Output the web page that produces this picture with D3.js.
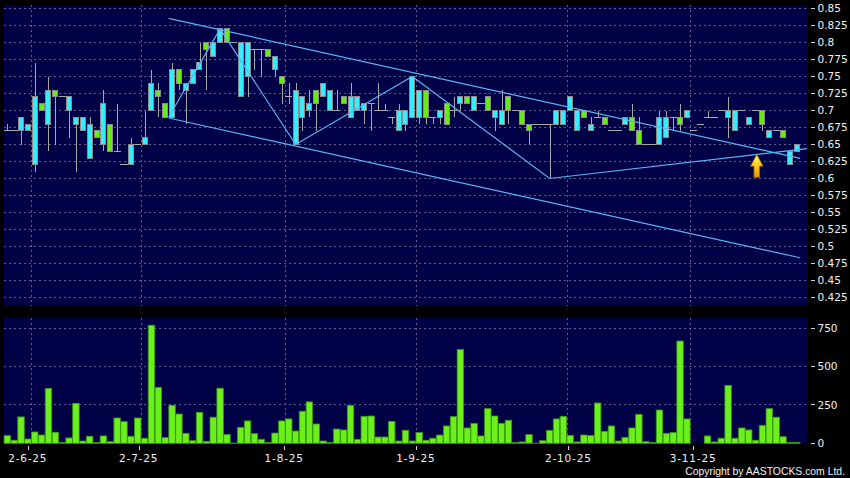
<!DOCTYPE html>
<html><head><meta charset="utf-8">
<script src="https://cdn.jsdelivr.net/npm/d3@7"></script>
<style>html,body{margin:0;padding:0;background:#000;}svg{display:block}</style>
</head><body>
<svg id="c" width="850" height="478"></svg>
<script>
// ---- data ----
const openP  = [.67,.67,.67,.67,.62,.71,.68,.73,.72,.70,.68,.67,.63,.67,.65,.68,.64,.62,.62,.65,.65,.70,.73,.71,.69,.76,.73,.74,.76,.80,.78,.80,.82,.80,.72,.75,.79,.79,.79,.76,.75,.72,.65,.69,.70,.73,.72,.70,.70,.72,.69,.70,.70,.71,.70,.70,.69,.67,.68,.69,.69,.73,.69,.69,.71,.70,.71,.72,.70,.71,.72,.69,.68,.72,.70,.70,.68,.68,.68,.68,.68,.68,.70,.67,.70,.67,.69,.69,.67,.67,.68,.69,.67,.65,.65,.65,.66,.69,.69,.69,.67,.68,.69,.69,.70,.69,.67,.70,.68,.70,.70,.66,.67,.67,.62,.64];
const highP  = [.68,.67,.69,.68,.77,.71,.75,.73,.72,.72,.69,.69,.69,.67,.73,.68,.71,.62,.66,.65,.70,.76,.74,.71,.77,.76,.74,.76,.80,.80,.80,.82,.82,.80,.80,.80,.79,.79,.79,.78,.75,.74,.74,.72,.73,.73,.74,.73,.73,.72,.74,.72,.71,.71,.74,.71,.69,.71,.70,.75,.73,.73,.69,.70,.71,.72,.72,.72,.72,.71,.72,.70,.73,.72,.70,.70,.68,.68,.68,.68,.70,.70,.72,.70,.70,.69,.70,.69,.67,.67,.69,.71,.69,.65,.65,.70,.70,.69,.71,.70,.67,.68,.70,.69,.70,.72,.70,.70,.69,.70,.70,.67,.67,.67,.64,.65];
const lowP   = [.67,.67,.65,.67,.61,.70,.64,.65,.72,.66,.61,.67,.63,.66,.64,.64,.64,.62,.62,.65,.65,.70,.69,.69,.69,.73,.68,.74,.76,.73,.78,.80,.80,.80,.72,.72,.76,.75,.78,.75,.71,.71,.65,.67,.69,.67,.72,.70,.70,.71,.69,.70,.68,.67,.70,.70,.68,.67,.67,.69,.68,.68,.68,.68,.68,.69,.70,.71,.70,.71,.70,.67,.68,.68,.70,.68,.65,.68,.68,.60,.68,.68,.70,.67,.69,.67,.69,.68,.67,.67,.68,.67,.65,.65,.65,.65,.66,.67,.67,.69,.67,.68,.69,.69,.70,.66,.67,.70,.68,.70,.67,.66,.67,.66,.62,.64];
const closeP = [.67,.67,.69,.68,.72,.70,.73,.72,.72,.72,.69,.69,.68,.66,.71,.64,.64,.62,.65,.65,.66,.74,.72,.69,.76,.74,.74,.76,.77,.79,.80,.82,.80,.80,.80,.80,.79,.79,.78,.78,.74,.72,.73,.72,.71,.71,.74,.73,.70,.71,.72,.72,.71,.71,.70,.70,.69,.70,.70,.75,.73,.69,.69,.70,.68,.70,.72,.71,.72,.71,.70,.70,.70,.70,.70,.68,.67,.68,.68,.68,.70,.70,.72,.70,.69,.68,.69,.68,.67,.67,.69,.67,.65,.65,.65,.69,.69,.69,.68,.70,.67,.68,.69,.69,.70,.70,.70,.70,.69,.70,.68,.67,.67,.66,.64,.65];
const volume = [50,20,172,28,74,54,357,72,6,35,261,15,46,6,48,11,165,141,46,165,33,770,365,37,248,191,65,17,202,13,170,359,57,2,104,146,63,26,6,67,146,159,80,209,270,126,15,6,93,87,246,26,176,178,41,41,143,15,85,15,70,20,33,54,113,174,611,100,130,48,226,178,130,150,6,9,57,1,17,83,159,176,52,9,54,50,263,78,113,15,39,100,189,11,6,217,65,70,667,159,0,0,48,9,33,378,33,100,87,20,117,226,170,43,6,6];
const monthStartBar = [4,20,41,60,82,100];
const dateLabels = ["2-6-25","2-7-25","1-8-25","1-9-25","2-10-25","3-11-25"];
const priceTicks = [0.85,0.825,0.8,0.775,0.75,0.725,0.7,0.675,0.65,0.625,0.6,0.575,0.55,0.525,0.5,0.475,0.45,0.425];
const volumeTicks = [0,250,500,750];
// trend lines: [bar position, price]
const upperChannel = [[23.5,0.8355],[115.5,0.6296]];
const lowerChannel = [[23.5,0.689],[115.5,0.4834]];
const zigzag = [[23.5,0.69],[31,0.82],[42,0.65],[59,0.75],[79,0.60],[116.5,0.644]];
const signalArrow = {bar:109, price:0.6355};

// ---- layout ----
const svg = d3.select('#c');
const L = 4, R = 807;
const pTop = 5, pBot = 306, vTop = 318, vBot = 443.5;
const n = closeP.length;
const x = d3.scaleBand().domain(d3.range(n)).range([3.87, 800.2]).paddingInner(0.12).paddingOuter(0.06);
const step = x.step(), bw = x.bandwidth();
const cx = i => x(i) + bw/2;
const xPos = d3.scaleLinear().domain([0, n-1]).range([cx(0), cx(n-1)]);
const xTick = d3.scaleLinear().domain([0, n]).range([0, R-3]);
const y = d3.scaleLinear().domain([0.425, 0.85]).range([297.5, 8.5]);
const yv = d3.scaleLinear().domain([0, 750]).range([443.3, 328.3]);

const navy = '#000046', gridC = '#5d5d90';
const upC = '#33eeff', downC = '#66ee11', edgeC = '#8c8c8c', wickC = '#a8a8a8';
const lineC = '#5cb4f4';

svg.append('rect').attr('width',850).attr('height',478).attr('fill','#000');
svg.append('rect').attr('x',L).attr('y',pTop).attr('width',R-L+1).attr('height',pBot-pTop).attr('fill',navy);
svg.append('rect').attr('x',L).attr('y',vTop).attr('width',R-L).attr('height',vBot-vTop).attr('fill',navy);

const grid = svg.append('g').attr('stroke',gridC).attr('stroke-width',1).attr('stroke-dasharray','2,3').attr('shape-rendering','crispEdges');
grid.selectAll('.hp').data(priceTicks).join('line')
  .attr('x1',L).attr('x2',R).attr('y1',d=>y(d)).attr('y2',d=>y(d));
grid.selectAll('.hv').data(volumeTicks.filter(d=>d>0)).join('line').attr('class','hv')
  .attr('x1',L).attr('x2',R).attr('y1',d=>yv(d)).attr('y2',d=>yv(d));
const gx = i => Math.round(x(i) - step*x.paddingInner()/2) + 0.5;
grid.selectAll('.vp').data(monthStartBar).join('line').attr('class','vp')
  .attr('x1',gx).attr('x2',gx).attr('y1',pTop).attr('y2',pBot);
grid.selectAll('.vv').data(monthStartBar).join('line').attr('class','vv')
  .attr('x1',gx).attr('x2',gx).attr('y1',vTop).attr('y2',vBot);

// candles
const data = d3.range(n).map(i => ({i, o:openP[i], h:highP[i], l:lowP[i], c:closeP[i], v:volume[i]}));
const cg = svg.append('g').attr('shape-rendering','crispEdges');
cg.selectAll('.wick').data(data.filter(d=>d.h>d.l)).join('line')
  .attr('x1',d=>Math.round(cx(d.i))+0.5).attr('x2',d=>Math.round(cx(d.i))+0.5)
  .attr('y1',d=>y(d.h)).attr('y2',d=>y(d.l)).attr('stroke',wickC).attr('stroke-width',1);
cg.selectAll('.doji').data(data.filter(d=>d.o===d.c)).join('line')
  .attr('x1',d=>x(d.i)-0.5).attr('x2',d=>x(d.i)+bw+0.5)
  .attr('y1',d=>y(d.o)).attr('y2',d=>y(d.o)).attr('stroke',wickC).attr('stroke-width',1);
cg.selectAll('.box').data(data.filter(d=>d.o!==d.c)).join('rect')
  .attr('x',d=>Math.round(x(d.i))+0.5).attr('width',Math.round(bw)-1)
  .attr('y',d=>y(Math.max(d.o,d.c))).attr('height',d=>Math.abs(y(d.o)-y(d.c)))
  .attr('fill',d=>d.c>d.o?upC:downC).attr('stroke',edgeC).attr('stroke-width',1);

// trend lines
const lg = d3.line().x(d=>xPos(d[0])).y(d=>y(d[1]));
[upperChannel, lowerChannel, zigzag].forEach(pts=>{
  svg.append('path').attr('d',lg(pts)).attr('fill','none').attr('stroke',lineC).attr('stroke-width',1.2);
});

// arrow
const defs = svg.append('defs');
const gr = defs.append('linearGradient').attr('id','ag').attr('x1',0).attr('y1',0).attr('x2',0).attr('y2',1);
gr.append('stop').attr('offset','0%').attr('stop-color','#fff38a');
gr.append('stop').attr('offset','45%').attr('stop-color','#ffd21a');
gr.append('stop').attr('offset','100%').attr('stop-color','#e89a00');
svg.append('path')
  .attr('transform',`translate(${cx(signalArrow.bar)+1.2},${y(signalArrow.price)})`)
  .attr('d','M0,0 L6.3,11.8 L2.8,11.8 L2.8,23 L-2.8,23 L-2.8,11.8 L-6.3,11.8 Z')
  .attr('fill','url(#ag)').attr('stroke','#9a6200').attr('stroke-width',0.9);

// volume bars
svg.append('g').selectAll('rect').data(data.filter(d=>d.v>0)).join('rect')
  .attr('x',d=>x(d.i)-0.2).attr('width',bw+0.4)
  .attr('y',d=>yv(d.v)).attr('height',d=>yv(0)-yv(d.v))
  .attr('fill','#6cf01c').attr('stroke','#379a0c').attr('stroke-width',0.8);

// axes text
const font = 'DejaVu Sans, Verdana, sans-serif';
const ax = svg.append('g').attr('font-family',font).attr('font-size',10.5).attr('fill','#f2f2f2');
const tickMarks = svg.append('g').attr('stroke','#d0d0d0').attr('stroke-width',1).attr('shape-rendering','crispEdges');
tickMarks.selectAll('.yt').data(priceTicks).join('line')
  .attr('x1',811).attr('x2',815).attr('y1',d=>y(d)).attr('y2',d=>y(d));
tickMarks.selectAll('.vt').data(volumeTicks).join('line').attr('class','vt')
  .attr('x1',811).attr('x2',815).attr('y1',d=>yv(d)).attr('y2',d=>yv(d));
tickMarks.selectAll('.xt').data(monthStartBar).join('line').attr('class','xt')
  .attr('x1',d=>Math.round(xTick(d))+0.5).attr('x2',d=>Math.round(xTick(d))+0.5).attr('y1',445.5).attr('y2',449.5);
const fmt = v => String(+v.toFixed(3));
ax.selectAll('.yl').data(priceTicks).join('text').attr('class','yl')
  .attr('x',817.5).attr('y',d=>y(d)).attr('dy','0.36em').text(fmt);
ax.selectAll('.vl').data(volumeTicks).join('text').attr('class','vl')
  .attr('x',817.5).attr('y',d=>yv(d)).attr('dy','0.36em').text(d=>d);
ax.selectAll('.xl').data(monthStartBar).join('text').attr('class','xl')
  .attr('x',d=>xTick(d)).attr('y',461.7).attr('text-anchor','middle').attr('letter-spacing',0.8)
  .text((d,k)=>dateLabels[k]);
svg.append('text').attr('x',845).attr('y',474.6).attr('text-anchor','end')
  .attr('font-family','Liberation Sans, Arial, sans-serif').attr('font-size',10.4).attr('fill','#f2f2f2')
  .text('Copyright by AASTOCKS.com Ltd.');
</script>
</body></html>
